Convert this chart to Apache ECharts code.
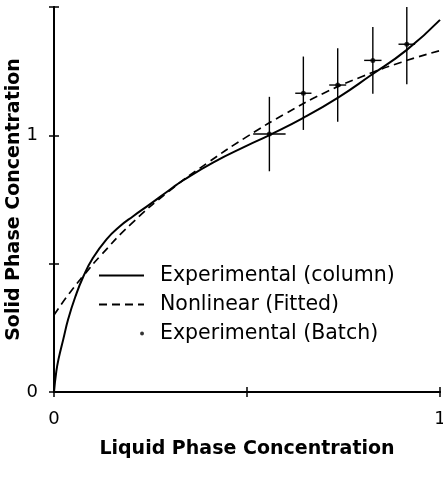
<!DOCTYPE html>
<html>
<head>
<meta charset="utf-8">
<script src="https://cdn.jsdelivr.net/npm/echarts@6/dist/echarts.min.js"></script>
<style>html,body{margin:0;padding:0;background:#fff}#c{width:443px;height:477px}</style>
</head>
<body>
<div id="c"></div>
<script>
// Experimental (column) curve
var colX = [0, 0.006, 0.012, 0.024, 0.037, 0.055, 0.076, 0.1, 0.136, 0.17, 0.205, 0.25, 0.3, 0.335, 0.413, 0.5, 0.557, 0.646, 0.737, 0.819, 0.914, 1.0];
var colY = [0, 0.08, 0.13, 0.205, 0.285, 0.37, 0.45, 0.52, 0.595, 0.645, 0.685, 0.733, 0.788, 0.825, 0.895, 0.96, 1.0, 1.068, 1.148, 1.232, 1.333, 1.45];
// Nonlinear (Fitted) curve
var fitX = [0, 0.04, 0.08, 0.12, 0.2, 0.3, 0.4, 0.5, 0.6, 0.7, 0.8, 0.9, 1.0];
var fitY = [0.30, 0.385, 0.46, 0.53, 0.655, 0.785, 0.895, 0.995, 1.085, 1.165, 1.23, 1.285, 1.33];
// Experimental (Batch) points with error bars
var batchX = [0.558, 0.646, 0.735, 0.826, 0.914];
var batchY = [1.005, 1.164, 1.196, 1.292, 1.355];
var errY = [0.145, 0.143, 0.143, 0.13, 0.156];
var errX = [0.042, 0.021, 0.022, 0.0225, 0.0215];
// tick labels
var xTickLabels = {0: '0', 1: '1'};
var yTickLabels = {0: '0', 1: '1'};

function pairs(xs, ys) { return xs.map(function (x, i) { return [x, ys[i]]; }); }
var FONT = 'DejaVu Sans';
var chart = echarts.init(document.getElementById('c'));
var axisCommon = {
  type: 'value', min: 0, interval: 0.5,
  axisLine: { show: true, lineStyle: { color: '#000', width: 2 } },
  axisTick: { show: true, inside: true, length: 5, lineStyle: { color: '#000', width: 1.5 } },
  splitLine: { show: false }
};
chart.setOption({
  animation: false,
  backgroundColor: '#fff',
  grid: { left: 54, right: 3, top: 7, bottom: 85, containLabel: false, outerBoundsMode: 'none' },
  legend: {
    orient: 'vertical', left: 98, top: 265, padding: 0,
    itemWidth: 45, itemHeight: 10, itemGap: 8,
    textStyle: { fontFamily: FONT, fontSize: 20.5, color: '#000', lineHeight: 20, padding: [0, 0, 0, 11] },
    data: [
      { name: 'Experimental (column)', itemStyle: { opacity: 0 } },
      { name: 'Nonlinear (Fitted)', itemStyle: { opacity: 0 } },
      { name: 'Experimental (Batch)', icon: 'path://M0,5 M42,5 a2,2 0 1,0 4,0 a2,2 0 1,0 -4,0 Z', itemStyle: { color: '#000', borderWidth: 0 } }
    ]
  },
  xAxis: [
    Object.assign({}, axisCommon, {
      max: 1, position: 'bottom',
      name: 'Liquid Phase Concentration', nameLocation: 'middle', nameGap: 48,
      nameTextStyle: { fontFamily: FONT, fontWeight: 'bold', fontSize: 19, color: '#000' },
      axisLabel: { show: true, margin: 18, fontFamily: FONT, fontSize: 18, color: '#000',
        formatter: function (v) { return xTickLabels[v] !== undefined ? xTickLabels[v] : ''; } }
    }),
    Object.assign({}, axisCommon, { max: 1, position: 'top', axisLabel: { show: false } })
  ],
  yAxis: [
    Object.assign({}, axisCommon, {
      max: 1.5, position: 'left',
      name: 'Solid Phase Concentration', nameLocation: 'middle', nameGap: 30, nameMoveOverlap: false,
      nameTextStyle: { fontFamily: FONT, fontWeight: 'bold', fontSize: 19, color: '#000' },
      axisLabel: { show: true, margin: 16, fontFamily: FONT, fontSize: 18, color: '#000',
        formatter: function (v) { return yTickLabels[v] !== undefined ? yTickLabels[v] : ''; } }
    }),
    Object.assign({}, axisCommon, { max: 1.5, position: 'right', axisLabel: { show: false } })
  ],
  series: [
    {
      name: 'Experimental (column)', type: 'line', data: pairs(colX, colY),
      smooth: 0.5, symbol: 'none',
      lineStyle: { color: '#000', width: 2 }, itemStyle: { color: '#000' }
    },
    {
      name: 'Nonlinear (Fitted)', type: 'line', data: pairs(fitX, fitY),
      smooth: 0.5, symbol: 'none',
      lineStyle: { color: '#000', width: 1.7, type: [8, 5] }, itemStyle: { color: '#000' }
    },
    {
      type: 'custom', clip: true, silent: true,
      data: batchX.map(function (x, i) { return [x, batchY[i], errX[i], errY[i]]; }),
      renderItem: function (params, api) {
        var x = api.value(0), y = api.value(1), ex = api.value(2), ey = api.value(3);
        var top = api.coord([x, y + ey]), bot = api.coord([x, y - ey]);
        var l = api.coord([x - ex, y]), r = api.coord([x + ex, y]);
        var st = { stroke: '#000', lineWidth: 1.4 };
        return { type: 'group', children: [
          { type: 'line', shape: { x1: top[0], y1: top[1], x2: bot[0], y2: bot[1] }, style: st },
          { type: 'line', shape: { x1: l[0], y1: l[1], x2: r[0], y2: r[1] }, style: st }
        ] };
      },
      z: 3
    },
    {
      name: 'Experimental (Batch)', type: 'scatter', data: pairs(batchX, batchY),
      symbol: 'circle', symbolSize: 5, itemStyle: { color: '#000' }, z: 4
    }
  ]
});
</script>
</body>
</html>
